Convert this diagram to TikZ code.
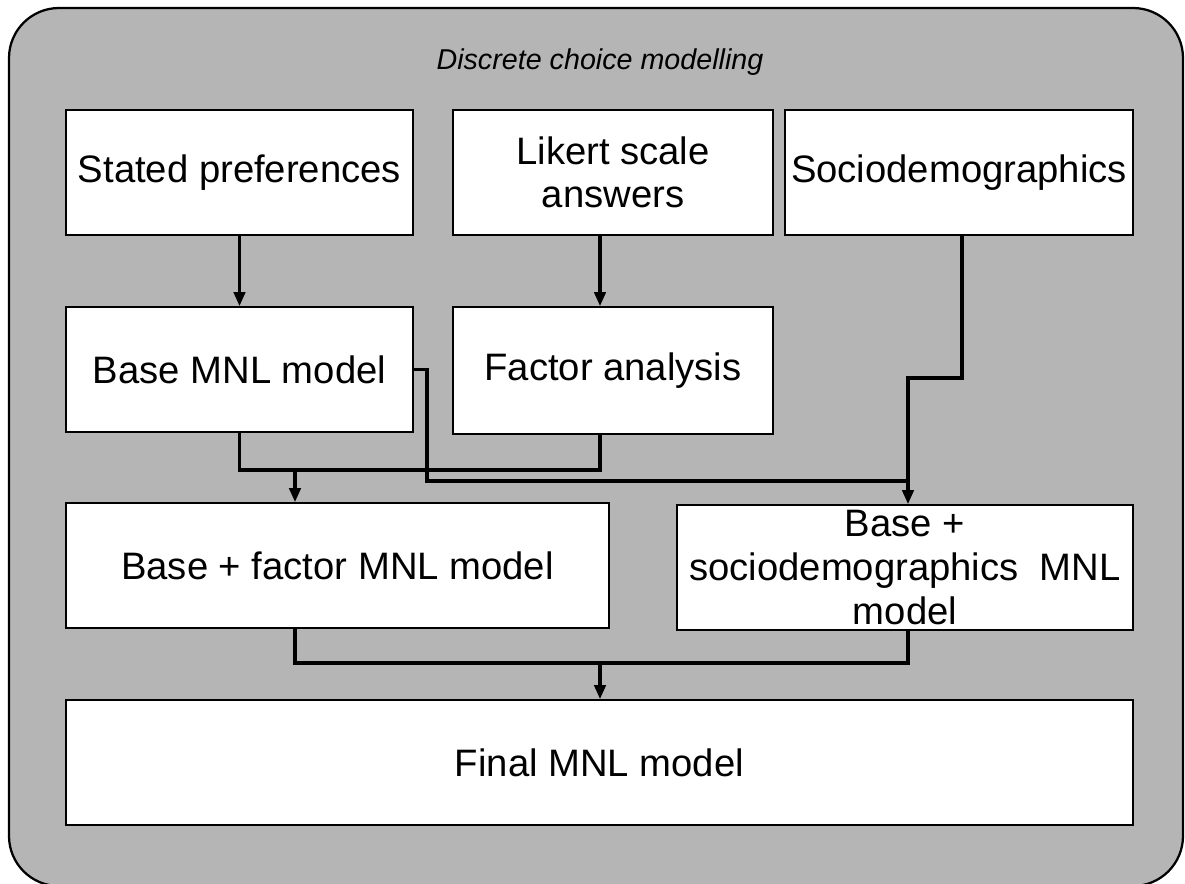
\documentclass[tikz,border=0pt]{standalone}
\usepackage{fontspec}
\setmainfont{Liberation Sans}
\usetikzlibrary{arrows.meta}

\tikzset{
    stagebox/.style={draw=black, line width=1.1pt, fill=white, align=center,
        inner sep=0pt, font=\fontsize{27.2}{31}\selectfont},
    link/.style={line width=2.4pt},
    linkarrow/.style={line width=2.4pt, -{Triangle[length=10pt, width=8pt]}}
}

\begin{document}
\begin{tikzpicture}[x=0.025cm, y=-0.025cm]

    \useasboundingbox (0, 0) rectangle (1185, 883);

    % Frame
    \draw[line width=1.6pt, fill={rgb,255:red,181;green,181;blue,181}, rounded corners=1.25cm]
        (9, 8) rectangle (1183, 886);
    \node (title) at (600, 62) {\fontsize{20.4}{24}\selectfont\itshape Discrete choice modelling};

    % Inputs
    \node[stagebox, minimum width=8.675cm, minimum height=3.125cm] (stated) at (239.5, 172.5) {Stated preferences};
    \node[stagebox, minimum width=8cm, minimum height=3.125cm] (likert) at (613, 172.5) {Likert scale\\answers};
    \node[stagebox, minimum width=8.7cm, minimum height=3.125cm] (socio) at (959, 172.5) {Sociodemographics};

    % First models
    \node[stagebox, minimum width=8.675cm, minimum height=3.125cm] (base) at (239.5, 369.5) {Base MNL model};
    \node[stagebox, minimum width=8cm, minimum height=3.175cm] (factor) at (613, 370.5) {Factor analysis};

    % Extended models
    \node[stagebox, minimum width=13.575cm, minimum height=3.125cm] (basefactor) at (337.5, 565.5) {Base + factor MNL model};
    \node[stagebox, minimum width=11.4cm, minimum height=3.125cm] (basesocio) at (905, 567.5) {Base +\\sociodemographics~~MNL\\model};

    % Final
    \node[stagebox, minimum width=26.675cm, minimum height=3.125cm] (final) at (599.5, 762.5) {Final MNL model};

    % Joints
    \coordinate (jfactor) at (295, 470);
    \coordinate (jsocio) at (908, 481);
    \coordinate (jfinal) at (600, 663);

    % Connectors
    \draw[linkarrow] (stated.south) -- (base.north);
    \draw[linkarrow] ([xshift=-0.325cm]likert.south) -- ([xshift=-0.325cm]factor.north);

    \draw[link] (base.south) |- (jfactor) -| ([xshift=-0.325cm]factor.south);
    \draw[linkarrow] (jfactor) -- (jfactor |- basefactor.north);

    \draw[link] (base.east) -- ++(13, 0) |- (jsocio);
    \draw[link] ([xshift=0.075cm]socio.south) |- (908, 378) -- (jsocio);
    \draw[linkarrow] (jsocio) -- (jsocio |- basesocio.north);

    \draw[link] (basefactor.south -| jfactor) |- (jfinal) -| (basesocio.south -| jsocio);
    \draw[linkarrow] (jfinal) -- (jfinal |- final.north);

\end{tikzpicture}
\end{document}
